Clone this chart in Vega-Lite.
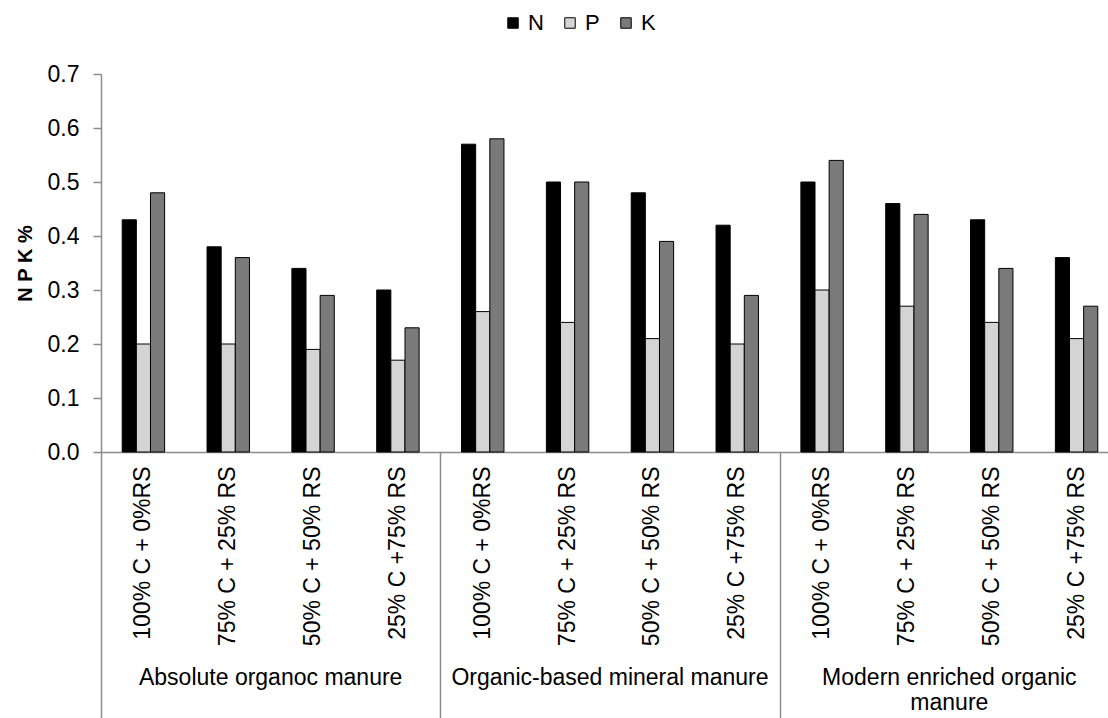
{
  "$schema": "https://vega.github.io/schema/vega-lite/v6.json",
  "width": 1018,
  "height": 378,
  "autosize": {"type": "none"},
  "padding": {"left": 101, "top": 74, "right": 0, "bottom": 266},
  "background": "white",
  "config": {"view": {"stroke": null}, "font": "Liberation Sans", "axis": {"labelFont": "Liberation Sans", "titleFont": "Liberation Sans", "labelColor": "black", "titleColor": "black"}, "legend": {"labelFont": "Liberation Sans"}},
  "layer": [
    {
      "data": {"values": [
        {"cat": "1|100% C + 0%RS", "nutrient": "N", "value": 0.43},
        {"cat": "1|100% C + 0%RS", "nutrient": "P", "value": 0.20},
        {"cat": "1|100% C + 0%RS", "nutrient": "K", "value": 0.48},
        {"cat": "1|75% C + 25% RS", "nutrient": "N", "value": 0.38},
        {"cat": "1|75% C + 25% RS", "nutrient": "P", "value": 0.20},
        {"cat": "1|75% C + 25% RS", "nutrient": "K", "value": 0.36},
        {"cat": "1|50% C + 50% RS", "nutrient": "N", "value": 0.34},
        {"cat": "1|50% C + 50% RS", "nutrient": "P", "value": 0.19},
        {"cat": "1|50% C + 50% RS", "nutrient": "K", "value": 0.29},
        {"cat": "1|25% C +75% RS", "nutrient": "N", "value": 0.30},
        {"cat": "1|25% C +75% RS", "nutrient": "P", "value": 0.17},
        {"cat": "1|25% C +75% RS", "nutrient": "K", "value": 0.23},
        {"cat": "2|100% C + 0%RS", "nutrient": "N", "value": 0.57},
        {"cat": "2|100% C + 0%RS", "nutrient": "P", "value": 0.26},
        {"cat": "2|100% C + 0%RS", "nutrient": "K", "value": 0.58},
        {"cat": "2|75% C + 25% RS", "nutrient": "N", "value": 0.50},
        {"cat": "2|75% C + 25% RS", "nutrient": "P", "value": 0.24},
        {"cat": "2|75% C + 25% RS", "nutrient": "K", "value": 0.50},
        {"cat": "2|50% C + 50% RS", "nutrient": "N", "value": 0.48},
        {"cat": "2|50% C + 50% RS", "nutrient": "P", "value": 0.21},
        {"cat": "2|50% C + 50% RS", "nutrient": "K", "value": 0.39},
        {"cat": "2|25% C +75% RS", "nutrient": "N", "value": 0.42},
        {"cat": "2|25% C +75% RS", "nutrient": "P", "value": 0.20},
        {"cat": "2|25% C +75% RS", "nutrient": "K", "value": 0.29},
        {"cat": "3|100% C + 0%RS", "nutrient": "N", "value": 0.50},
        {"cat": "3|100% C + 0%RS", "nutrient": "P", "value": 0.30},
        {"cat": "3|100% C + 0%RS", "nutrient": "K", "value": 0.54},
        {"cat": "3|75% C + 25% RS", "nutrient": "N", "value": 0.46},
        {"cat": "3|75% C + 25% RS", "nutrient": "P", "value": 0.27},
        {"cat": "3|75% C + 25% RS", "nutrient": "K", "value": 0.44},
        {"cat": "3|50% C + 50% RS", "nutrient": "N", "value": 0.43},
        {"cat": "3|50% C + 50% RS", "nutrient": "P", "value": 0.24},
        {"cat": "3|50% C + 50% RS", "nutrient": "K", "value": 0.34},
        {"cat": "3|25% C +75% RS", "nutrient": "N", "value": 0.36},
        {"cat": "3|25% C +75% RS", "nutrient": "P", "value": 0.21},
        {"cat": "3|25% C +75% RS", "nutrient": "K", "value": 0.27}
      ]},
      "mark": {"type": "bar", "stroke": "black", "strokeWidth": 1},
      "encoding": {
        "x": {"field": "cat", "type": "nominal", "sort": null,
          "scale": {"paddingInner": 0.5, "paddingOuter": 0.25},
          "axis": {"title": null, "orient": "bottom", "labelAngle": 270, "labelExpr": "split(datum.label, '|')[1]", "ticks": false, "domainColor": "#8c8c8c", "domainWidth": 1.5, "labelFontSize": 23, "labelPadding": 14, "labelColor": "black"}},
        "xOffset": {"field": "nutrient", "type": "nominal", "scale": {"domain": ["N", "P", "K"], "paddingInner": 0, "paddingOuter": 0}},
        "y": {"field": "value", "type": "quantitative",
          "scale": {"domain": [0, 0.7], "nice": false, "zero": true},
          "axis": {"title": "N P K %", "values": [0, 0.1, 0.2, 0.3, 0.4, 0.5, 0.6, 0.7], "format": ".1f", "grid": false, "tickSize": 8, "tickColor": "#8c8c8c", "domainColor": "#8c8c8c", "domainWidth": 1.5, "tickWidth": 1.5, "labelFontSize": 23, "labelPadding": 14, "titleFontSize": 20, "titleFontWeight": "bold", "titlePadding": 12}},
        "fill": {"field": "nutrient", "type": "nominal",
          "scale": {"domain": ["N", "P", "K"], "range": ["black", "#d4d4d4", "#7a7a7a"]},
          "legend": {"orient": "none", "legendX": 401, "legendY": -62, "direction": "horizontal", "title": null, "symbolType": "square", "symbolSize": 110, "symbolStrokeColor": "black", "symbolStrokeWidth": 1, "labelFontSize": 22, "labelOffset": 4, "columnPadding": 15, "labelColor": "black"}}
      }
    },
    {
      "data": {"values": [
        {"group": "Absolute organoc manure", "label": "Absolute organoc manure"},
        {"group": "Organic-based mineral manure", "label": "Organic-based mineral manure"},
        {"group": "Modern enriched organic manure", "label": "Modern enriched organic\nmanure"}
      ]},
      "mark": {"type": "text", "baseline": "top", "align": "center", "fontSize": 23, "lineBreak": "\n", "color": "black", "lineHeight": 25},
      "encoding": {
        "x": {"field": "group", "type": "nominal", "sort": null,
          "scale": {"paddingInner": 0, "paddingOuter": 0},
          "axis": {"orient": "bottom", "title": null, "labels": false, "domain": false, "ticks": true, "tickBand": "extent", "tickSize": 266, "tickColor": "#8c8c8c", "tickWidth": 1.5}},
        "y": {"datum": -0.399, "type": "quantitative", "scale": {"domain": [0, 0.7], "nice": false}},
        "text": {"field": "label"}
      }
    }
  ],
  "resolve": {"scale": {"x": "independent"}, "axis": {"x": "independent"}}
}
